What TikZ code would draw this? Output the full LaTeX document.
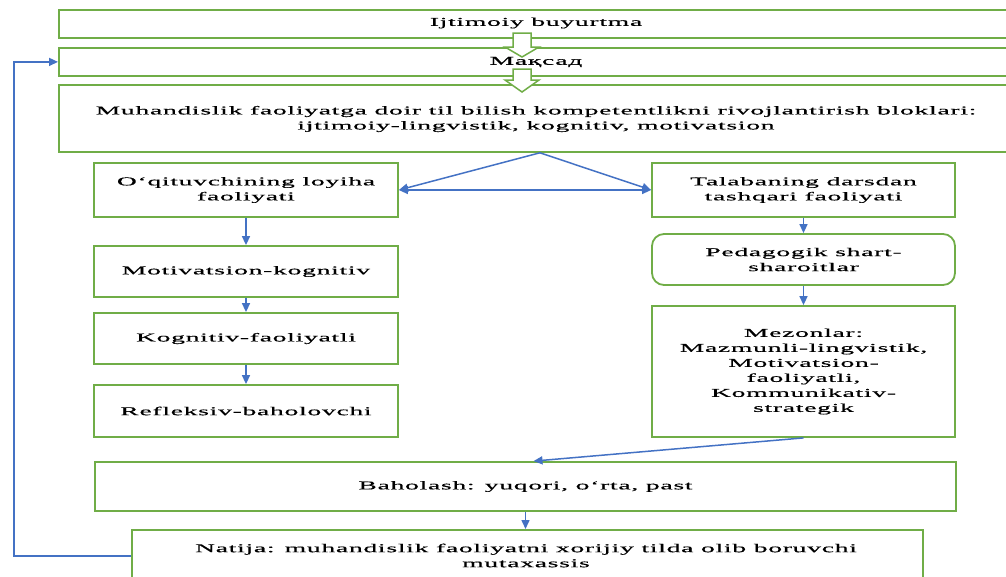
\documentclass[tikz,border=0pt]{standalone}
\usepackage{fontspec}
\setmainfont{Liberation Serif}[FakeStretch=2.3, LetterSpace=6, FakeBold=0.5]
\usetikzlibrary{arrows.meta}
\definecolor{boxgreen}{RGB}{112,173,71}
\definecolor{linkblue}{RGB}{68,114,196}
\begin{document}
\begin{tikzpicture}[x=1pt,y=-1pt,
  box/.style={draw=boxgreen, line width=1.8pt, fill=white, inner sep=0pt, align=center, font=\fontsize{12}{15}\selectfont},
  rbox/.style={box, rounded corners=12pt},
  txt/.style={inner sep=0pt, align=center, font=\fontsize{12}{15}\selectfont},
  link/.style={draw=linkblue, line width=1.5pt, -{Triangle[length=9pt,width=8pt]}},
  both/.style={draw=linkblue, line width=1.5pt, {Triangle[length=9pt,width=8pt]}-{Triangle[length=9pt,width=8pt]}},
  blockarrow/.style={draw=boxgreen, line width=1.5pt, fill=white, line join=miter}]
\useasboundingbox (0,0) rectangle (1006,576);
% top boxes (extend past right edge)
\node[box, minimum width=962pt, minimum height=28pt, anchor=north west] (b1) at (58,9) {};
\node[box, minimum width=962pt, minimum height=28pt, anchor=north west] (b2) at (58,47) {};
\node[box, minimum width=962pt, minimum height=67pt, anchor=north west] (b3) at (58,84) {};
% block arrows
\draw[blockarrow] (513,33) -- (531,33) -- (531,47) -- (539,47) -- (522,57) -- (505,47) -- (513,47) -- cycle;
\draw[blockarrow] (513,69) -- (531,69) -- (531,80) -- (539,80) -- (522,92) -- (505,80) -- (513,80) -- cycle;
\node[txt] (t1) at (536,23) {Ijtimoiy buyurtma};
\node[txt] (t2) at (536,62) {Мақсад};
\node[txt] (t3) at (536,119) {Muhandislik faoliyatga doir til bilish kompetentlikni rivojlantirish bloklari:\\ijtimoiy-lingvistik, kognitiv, motivatsion};
% left column
\node[box, minimum width=304pt, minimum height=54pt] (L1) at (246,190) {O‘qituvchining loyiha\\faoliyati};
\node[box, minimum width=304pt, minimum height=51pt] (L2) at (246,271.5) {Motivatsion-kognitiv};
\node[box, minimum width=304pt, minimum height=51pt] (L3) at (246,338.5) {Kognitiv-faoliyatli};
\node[box, minimum width=304pt, minimum height=52pt] (L4) at (246,411) {Refleksiv-baholovchi};
% right column
\node[box, minimum width=303pt, minimum height=54pt] (R1) at (803.5,190) {Talabaning darsdan\\tashqari faoliyati};
\node[rbox, minimum width=303pt, minimum height=51pt] (R2) at (803.5,259.5) {Pedagogik shart-\\sharoitlar};
\node[box, minimum width=303pt, minimum height=131pt] (R3) at (803.5,371.5) {Mezonlar:\\Mazmunli-lingvistik,\\Motivatsion-\\faoliyatli,\\Kommunikativ-\\strategik};
% bottom
\node[box, minimum width=861pt, minimum height=49pt] (bah) at (525.5,486.5) {Baholash: yuqori, o‘rta, past};
\node[box, minimum width=791pt, minimum height=52pt, anchor=north west] (nat) at (131,529) {};
\node[txt] (t4) at (526,555.5) {Natija: muhandislik faoliyatni xorijiy tilda olib boruvchi\\mutaxassis};
% connectors
\draw[link] (b3.south) -- (L1.east);
\draw[link] (b3.south) -- (R1.west);
\draw[both] (L1.east) -- (R1.west);
\draw[link] (L1) -- (L2);
\draw[link] (L2) -- (L3);
\draw[link] (L3) -- (L4);
\draw[link] (R1) -- (R2);
\draw[link] (R2) -- (R3);
\draw[link] (R3.south) -- ([xshift=8pt]bah.north);
\draw[link] (bah.south) -- (bah.south |- nat.north);
\draw[link] (nat.west) -- ++(-117,0) |- (b2.west);
\end{tikzpicture}
\end{document}
